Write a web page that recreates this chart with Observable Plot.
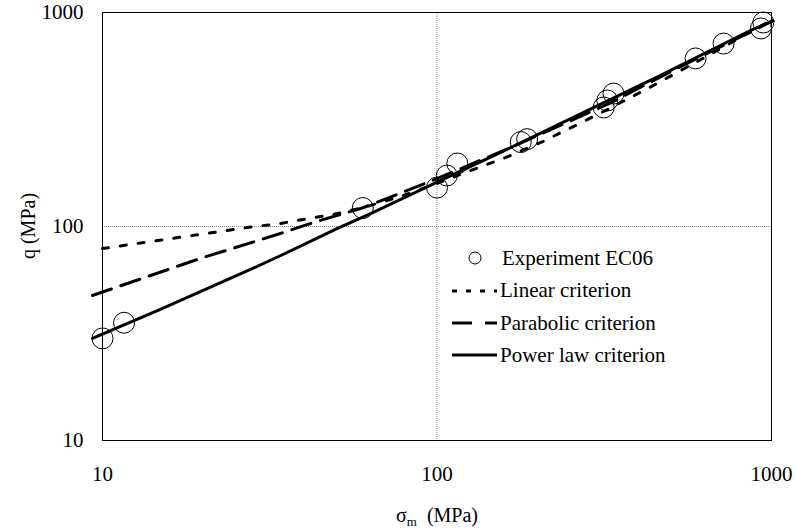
<!DOCTYPE html>
<html><head><meta charset="utf-8">
<script src="https://cdn.jsdelivr.net/npm/d3@7"></script>
<script src="https://cdn.jsdelivr.net/npm/@observablehq/plot@0.6"></script>
<style>
body{margin:0;background:#fff;}
#chart{width:795px;height:531px;}
svg{overflow:visible;}
</style></head><body><div id="chart"></div>
<script>
// Experimental points (EC06)
const expX = [10, 11.6, 60, 100, 107, 115, 178, 186, 315, 323, 337, 593, 719, 930, 945];
const expY = [30, 35.5, 122, 152, 173, 197, 248, 256, 360, 388, 418, 610, 716, 842, 898];
// Linear criterion
const linX = [10, 27.1, 34, 50.4, 60.4, 79.4, 100, 126, 163, 207, 259, 323, 426, 600, 1005];
const linY = [78.9, 98.9, 103.3, 115, 122.7, 139.6, 159, 182.7, 212, 249.5, 296, 352, 441, 590, 925];
// Parabolic criterion
const parX = [9.33, 19.6, 34, 42.7, 60.4, 100.3, 166, 250, 330, 466, 600, 1010];
const parY = [47.6, 70.9, 92.7, 104.4, 122.7, 167.6, 234, 311, 378, 500, 612, 915];
// Power law criterion
const powX = [9.33, 14.6, 27.7, 34, 50.4, 63.3, 99.7, 155, 300, 466, 865, 1010];
const powY = [30, 40.5, 63, 73, 98, 115, 160.6, 222, 365, 508, 824, 915];
// Ticks
const xTicks = [10, 100, 1000];
const yTicks = [10, 100, 1000];
const gridX = [100];
const gridY = [100];
const legendLabels = ["Experiment EC06", "Linear criterion", "Parabolic criterion", "Power law criterion"];

const rows = (xs, ys) => xs.map((x, i) => ({x, y: ys[i]}));
const font = "'Liberation Serif', 'Times New Roman', serif";

const svg = Plot.plot({
  width: 795, height: 531,
  marginLeft: 102, marginRight: 24, marginTop: 12, marginBottom: 91,
  style: {fontFamily: font, fontSize: "21px", background: "white", color: "black", overflow: "visible"},
  x: {type: "log", domain: [10, 1000]},
  y: {type: "log", domain: [10, 1000]},
  marks: [
    Plot.ruleX(gridX, {stroke: "#888", strokeWidth: 1, strokeDasharray: "1,1"}),
    Plot.ruleY(gridY, {stroke: "#888", strokeWidth: 1, strokeDasharray: "1,1"}),
    Plot.frame({stroke: "black", strokeWidth: 1}),
    Plot.axisX({ticks: xTicks, tickSize: 0, tickPadding: 26, tickFormat: d => String(d), label: null}),
    Plot.axisY({ticks: yTicks, tickSize: 0, tickPadding: 19, tickFormat: d => String(d), label: null}),
    Plot.line(rows(linX, linY), {x: "x", y: "y", stroke: "black", strokeWidth: 3, strokeDasharray: "6,12"}),
    Plot.line(rows(parX, parY), {x: "x", y: "y", stroke: "black", strokeWidth: 3, strokeDasharray: "20,10"}),
    Plot.line(rows(powX, powY), {x: "x", y: "y", stroke: "black", strokeWidth: 3}),
    Plot.dot(rows(expX, expY), {x: "x", y: "y", r: 10.5, stroke: "black", strokeWidth: 1, fill: "none"})
  ]
});
document.getElementById("chart").appendChild(svg);

const s = d3.select(svg);
// Axis titles
s.append("text")
  .attr("transform", "translate(28,226) rotate(-90)")
  .attr("text-anchor", "middle").attr("dy", "0.35em")
  .attr("font-family", font).attr("font-size", 20).attr("fill", "black")
  .text("q (MPa)");
const xt = s.append("text")
  .attr("x", 437).attr("y", 522).attr("text-anchor", "middle")
  .attr("font-family", font).attr("font-size", 20).attr("fill", "black")
  .attr("xml:space", "preserve");
xt.append("tspan").text("σ");
xt.append("tspan").attr("font-size", 13).attr("dy", 4).text("m");
xt.append("tspan").attr("dy", -4).text("  (MPa)");

// Legend
const lg = s.append("g").attr("font-family", font).attr("font-size", 21)
  .attr("fill", "black").attr("text-anchor", "start");
const rowY = [258, 291, 323, 355];
const baseY = [265, 297, 330, 362];
lg.append("circle").attr("cx", 475).attr("cy", rowY[0]).attr("r", 6)
  .attr("fill", "none").attr("stroke", "black").attr("stroke-width", 1);
const dashes = ["5,9", "20,13", null];
dashes.forEach((da, i) => {
  const l = lg.append("line").attr("x1", 452).attr("x2", 497)
    .attr("y1", rowY[i + 1]).attr("y2", rowY[i + 1])
    .attr("stroke", "black").attr("stroke-width", 3);
  if (da) l.attr("stroke-dasharray", da);
});
legendLabels.forEach((t, i) => {
  lg.append("text").attr("x", i === 0 ? 502 : 500).attr("y", baseY[i])
    .attr("text-anchor", "start").text(t);
});
</script>
</body></html>
